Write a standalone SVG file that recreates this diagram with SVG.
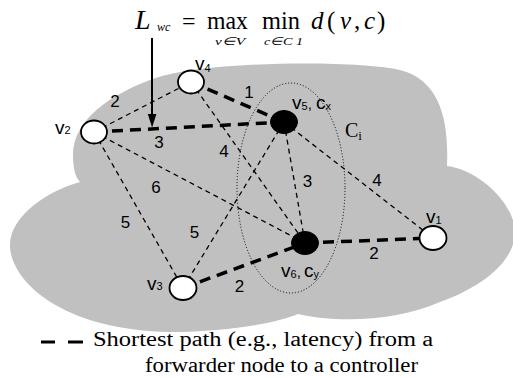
<svg xmlns="http://www.w3.org/2000/svg" width="513" height="377" viewBox="0 0 513 377">
<defs>
<style>
.thin{stroke:#000;stroke-width:1.3;stroke-dasharray:5 4;fill:none}
.thick{stroke:#000;stroke-width:3.5;stroke-dasharray:11 7;fill:none}
.wn{fill:#fff;stroke:#000;stroke-width:1.8}
.bn{fill:#000;stroke:#000;stroke-width:1}
.lbl{font-family:"Liberation Sans",Arial,sans-serif;font-size:17px;fill:#000;text-anchor:middle}
.nl{font-family:"Liberation Sans",Arial,sans-serif;font-size:19px;fill:#000}
.sub{font-size:11px}
.tm{font-family:"Liberation Serif","Times New Roman",serif;fill:#000}
</style>
</defs>
<path id="cloud" d="M80,182 C50,190 10,215 10,245 C10,280 60,330 170,332 C230,332 280,322 298,314 C340,324 400,320 440,302 C480,288 515,262 515,232 C515,205 480,170 447,166 C449,120 440,80 400,70 C360,60 200,60 150,80 C110,95 73,120 73,155 C73,170 76,178 80,182 Z" fill="#c0c0c0"/>
<ellipse id="cluster" cx="291" cy="188" rx="54" ry="105" fill="none" stroke="#000" stroke-width="1" stroke-dasharray="1 2"/>
<g id="connectors">
<line class="thin" x1="94" y1="132" x2="191" y2="82"/>
<line class="thin" x1="191" y1="82" x2="305" y2="243"/>
<line class="thin" x1="94" y1="132" x2="305" y2="243"/>
<line class="thin" x1="94" y1="132" x2="183" y2="288"/>
<line class="thin" x1="183" y1="288" x2="284" y2="122"/>
<line class="thin" x1="284" y1="122" x2="305" y2="243"/>
<line class="thin" x1="284" y1="122" x2="433" y2="238"/>
<line class="thick" x1="191" y1="82" x2="284" y2="122"/>
<line class="thick" x1="94" y1="132" x2="284" y2="122"/>
<line class="thick" x1="305" y1="243" x2="433" y2="238"/>
<line class="thick" x1="183" y1="288" x2="305" y2="243"/>
<line x1="152" y1="38" x2="152" y2="116" stroke="#000" stroke-width="2"/>
<polygon points="147.8,114 156.4,114 152.1,127.5" fill="#000"/>
</g>
<g id="edge-labels">
<text class="lbl" x="249" y="98">1</text>
<text class="lbl" x="159" y="148">3</text>
<text class="lbl" x="115" y="107">2</text>
<text class="lbl" x="224" y="157">4</text>
<text class="lbl" x="156" y="193">6</text>
<text class="lbl" x="125.5" y="228">5</text>
<text class="lbl" x="194.5" y="238">5</text>
<text class="lbl" x="307.5" y="187">3</text>
<text class="lbl" x="377" y="186">4</text>
<text class="lbl" x="374" y="259">2</text>
<text class="lbl" x="239.5" y="292">2</text>
</g>
<g id="v4"><ellipse class="wn" cx="191" cy="82" rx="13" ry="11.5"/><text class="nl" x="195" y="70">v<tspan class="sub" dy="2">4</tspan></text></g>
<g id="v2"><ellipse class="wn" cx="94" cy="132" rx="13" ry="11.5"/><text class="nl" x="55" y="134">v<tspan class="sub">2</tspan></text></g>
<g id="v5"><ellipse class="bn" cx="284" cy="122" rx="13.5" ry="11.5"/><text class="nl" x="292" y="109">v<tspan class="sub" dy="1">5</tspan><tspan dy="-1" font-size="15">, </tspan>c<tspan class="sub" dy="1">x</tspan></text></g>
<g id="v6"><ellipse class="bn" cx="305" cy="243" rx="13.5" ry="11.5"/><text class="nl" x="281" y="277">v<tspan class="sub" dy="1">6</tspan><tspan dy="-1" font-size="15">,</tspan><tspan x="304">c</tspan><tspan class="sub" dy="1">y</tspan></text></g>
<g id="v1"><ellipse class="wn" cx="433" cy="238" rx="13.5" ry="12"/><text class="nl" x="426" y="223">v<tspan class="sub" dy="1">1</tspan></text></g>
<g id="v3"><ellipse class="wn" cx="183" cy="288" rx="13.5" ry="12"/><text class="nl" x="147" y="290">v<tspan class="sub">3</tspan></text></g>
<g id="cluster-label"><text class="tm" x="345" y="137" font-size="20">C<tspan font-size="13" dy="3">i</tspan></text></g>
<g id="formula" class="tm">
<text x="135" y="29" font-size="28" font-style="italic">L</text>
<text x="157" y="31" font-size="12" font-style="italic">wc</text>
<text x="182" y="29" font-size="24">=</text>
<text x="207" y="29" font-size="25" textLength="41" lengthAdjust="spacingAndGlyphs">max</text>
<text x="262" y="29" font-size="25" textLength="38" lengthAdjust="spacingAndGlyphs">min</text>
<text x="215" y="45" font-size="11" font-style="italic" textLength="30" lengthAdjust="spacingAndGlyphs">v∈V</text>
<text x="264" y="45" font-size="11" font-style="italic" textLength="39" lengthAdjust="spacingAndGlyphs">c∈C 1</text>
<text x="311" y="29" font-size="25" font-style="italic">d</text>
<text x="327" y="29" font-size="25">(</text>
<text x="340" y="29" font-size="25" font-style="italic">v</text>
<text x="354" y="29" font-size="25">,</text>
<text x="364" y="29" font-size="25" font-style="italic">c</text>
<text x="377" y="29" font-size="25">)</text>
</g>
<g id="legend">
<line x1="41" y1="342" x2="55" y2="342" stroke="#000" stroke-width="3"/>
<line x1="68" y1="342" x2="83" y2="342" stroke="#000" stroke-width="3"/>
<text class="tm" x="93" y="346" font-size="20" textLength="340" lengthAdjust="spacingAndGlyphs">Shortest path (e.g., latency) from a</text>
<text class="tm" x="145" y="372" font-size="20" textLength="273" lengthAdjust="spacingAndGlyphs">forwarder node to a controller</text>
</g>
</svg>
